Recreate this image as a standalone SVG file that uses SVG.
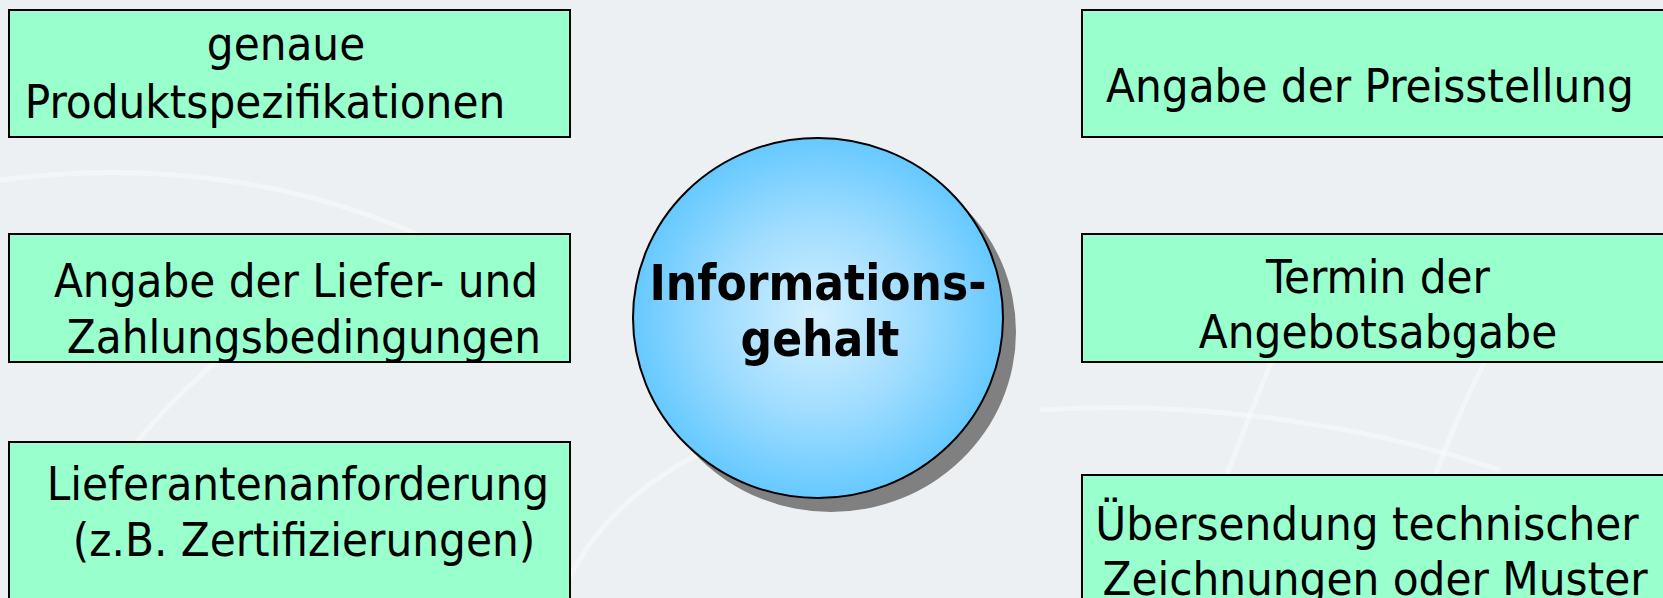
<svg xmlns="http://www.w3.org/2000/svg" width="1663" height="598" viewBox="0 0 1663 598">
  <defs>
    <radialGradient id="sphere" cx="0.5" cy="0.5" r="0.5">
      <stop offset="0" stop-color="#d4f0ff"/>
      <stop offset="0.55" stop-color="#9edcff"/>
      <stop offset="1" stop-color="#66c9ff"/>
    </radialGradient>
    <style>
      .bg { fill: #edf0f3; }
      .swirl { fill: none; stroke: #ffffff; stroke-opacity: 0.35; stroke-width: 5; }
      .box { fill: #99ffcc; stroke: #000000; stroke-width: 2; }
      .lbl { font-family: "DejaVu Sans Condensed", "DejaVu Sans", sans-serif; font-stretch: condensed; font-size: 47px; fill: #000000; text-anchor: middle; }
      .hub { font-family: "DejaVu Sans Condensed", "DejaVu Sans", sans-serif; font-stretch: condensed; font-weight: bold; font-size: 49px; fill: #000000; text-anchor: middle; }
      .shadow { fill: #808080; }
      .core { fill: url(#sphere); stroke: #000000; stroke-width: 2; }
    </style>
  </defs>

  <!-- backdrop with faint sweeping curves -->
  <rect class="bg" x="0" y="0" width="1663" height="598"/>
  <g id="backdrop">
    <path class="swirl" d="M 40 598 C 120 420 260 300 420 250"/>
    <path class="swirl" d="M 560 598 C 600 500 700 430 830 420"/>
    <path class="swirl" d="M 1180 598 C 1230 470 1260 380 1300 300"/>
    <path class="swirl" d="M 1400 598 C 1430 470 1470 380 1520 300"/>
    <path class="swirl" d="M 0 180 C 150 160 300 180 430 240"/>
    <path class="swirl" d="M 1040 410 C 1180 400 1350 420 1500 470"/>
  </g>

  <g id="connectors"></g>

  <g id="node-hub">
    <ellipse class="shadow" cx="831" cy="332" rx="185" ry="180"/>
    <ellipse class="core" cx="818" cy="318" rx="185" ry="180"/>
    <text class="hub" x="818" y="300">Informations-</text>
    <text class="hub" x="820" y="356">gehalt</text>
  </g>

  <g id="node-produkt">
    <rect class="box" x="9" y="10" width="561" height="127"/>
    <text class="lbl" x="286" y="60">genaue</text>
    <text class="lbl" x="265" y="118">Produktspezifikationen</text>
  </g>

  <g id="node-liefer">
    <rect class="box" x="9" y="234" width="561" height="128"/>
    <text class="lbl" x="296" y="297">Angabe der Liefer- und</text>
    <text class="lbl" x="304" y="353">Zahlungsbedingungen</text>
  </g>

  <g id="node-anforderung">
    <rect class="box" x="9" y="442" width="561" height="170"/>
    <text class="lbl" x="298" y="500">Lieferantenanforderung</text>
    <text class="lbl" x="304" y="556">(z.B. Zertifizierungen)</text>
  </g>

  <g id="node-preis">
    <rect class="box" x="1082" y="10" width="600" height="127"/>
    <text class="lbl" x="1370" y="102">Angabe der Preisstellung</text>
  </g>

  <g id="node-termin">
    <rect class="box" x="1082" y="234" width="600" height="128"/>
    <text class="lbl" x="1378" y="293">Termin der</text>
    <text class="lbl" x="1378" y="348">Angebotsabgabe</text>
  </g>

  <g id="node-muster">
    <rect class="box" x="1082" y="475" width="600" height="140"/>
    <text class="lbl" x="1367" y="540">Übersendung technischer</text>
    <text class="lbl" x="1375" y="595">Zeichnungen oder Muster</text>
  </g>
</svg>
